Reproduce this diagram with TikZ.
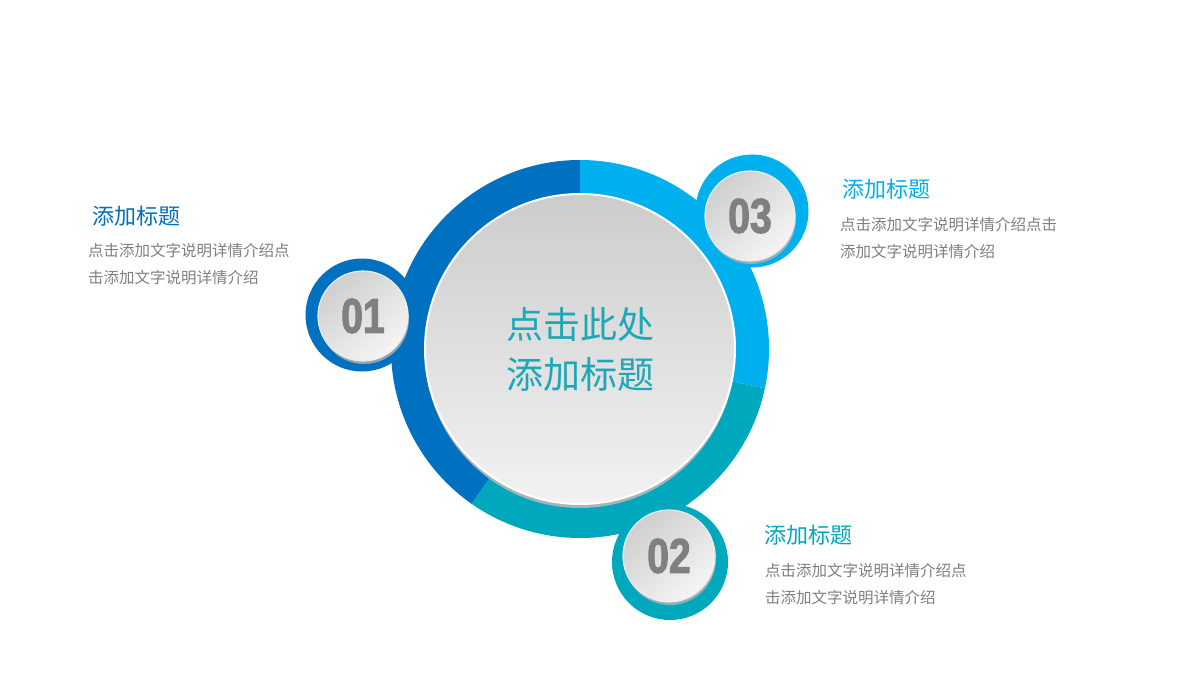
\documentclass[tikz,border=0pt]{standalone}
\usepackage{fontspec}
\usepackage{tikz}
\newfontfamily\cjk{Noto Sans CJK SC}
\newfontfamily\numfont{Liberation Sans}[FakeStretch=0.8,FakeBold=2]
\definecolor{darkblue}{RGB}{0,112,192}
\definecolor{lightblue}{RGB}{0,175,238}
\definecolor{tealcolor}{RGB}{0,168,189}
\definecolor{textteal}{RGB}{28,168,184}
\definecolor{textgray}{RGB}{128,128,128}
\usetikzlibrary{positioning,shadows}
\tikzset{
	ringdisc/.style={
		circle,
		inner sep=0pt,
		minimum size=113pt
	},
	badge/.style={
		circle,
		inner sep=0pt,
		minimum size=90pt,
		top color=black!19,
		bottom color=black!4,
		shading angle=40,
		draw=white!92!black,
		line width=1.2pt,
		drop shadow={shadow xshift=1pt,shadow yshift=-3pt,fill=black!30,opacity=0.8},
		font=\numfont\bfseries\fontsize{49}{49}\selectfont,
		text=textgray
	},
	core/.style={
		circle,
		inner sep=0pt,
		minimum size=310pt,
		top color=black!20,
		bottom color=black!5,
		draw=white,
		line width=2pt,
		drop shadow={shadow xshift=0pt,shadow yshift=-4pt,fill=black!28,opacity=0.9},
		align=center,
		font=\cjk\fontsize{37}{50}\selectfont,
		text=textteal
	},
	headtext/.style={
		anchor=west,
		inner sep=0pt,
		font=\cjk\fontsize{22}{22}\selectfont
	},
	desctext/.style={
		anchor=west,
		inner sep=0pt,
		font=\cjk\fontsize{15.5}{15.5}\selectfont,
		text=textgray
	},
}

\begin{document}
\begin{tikzpicture}[x=1pt,y=1pt,on grid]
	\path[fill=white] (0,0) rectangle (1200,-675);
	\coordinate (hub) at (580,-349);
	% outer ring in three parts
	\fill[darkblue] (hub) -- ++(90:189pt) arc[start angle=90,end angle=235,radius=189pt] -- cycle;
	\fill[tealcolor] (hub) -- ++(235:189pt) arc[start angle=235,end angle=348,radius=189pt] -- cycle;
	\fill[lightblue] (hub) -- ++(-12:189pt) arc[start angle=-12,end angle=90,radius=189pt] -- cycle;
	% rings of the badges
	\node[ringdisc,fill=darkblue] (ring1) at (362,-315) {};
	\node[ringdisc,fill=tealcolor,minimum size=116pt] (ring2) at (670,-562) {};
	\node[ringdisc,fill=lightblue] (ring3) at (752,-211) {};
	% centre
	\node[core] (centre) at (hub) {点击此处\\添加标题};
	\node[badge] (b1) at (363,-316) {01};
	\node[badge,minimum size=92pt] (b2) at (669,-556) {02};
	\node[badge] (b3) at (750,-216) {03};
	% texts
	\node[headtext,text=darkblue] (head1) at (92,-216) {添加标题};
	\node[desctext] (desc1a) at (88,-251) {点击添加文字说明详情介绍点};
	\node[desctext] (desc1b) [below=27pt of desc1a.west,anchor=west] {击添加文字说明详情介绍};
	\node[headtext,text=tealcolor] (head2) at (764,-535) {添加标题};
	\node[desctext] (desc2a) at (765,-571) {点击添加文字说明详情介绍点};
	\node[desctext] (desc2b) [below=27pt of desc2a.west,anchor=west] {击添加文字说明详情介绍};
	\node[headtext,text=lightblue] (head3) at (842,-189) {添加标题};
	\node[desctext] (desc3a) at (840,-225) {点击添加文字说明详情介绍点击};
	\node[desctext] (desc3b) [below=27pt of desc3a.west,anchor=west] {添加文字说明详情介绍};
\end{tikzpicture}
\end{document}
